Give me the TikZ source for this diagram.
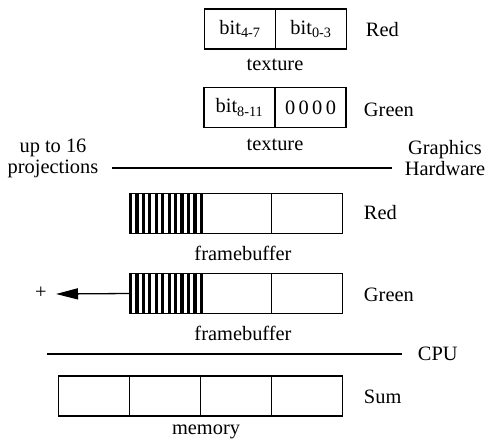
\documentclass[tikz,border=0pt]{standalone}
\usepackage{fontspec}
\setmainfont{Liberation Serif}
\usetikzlibrary{matrix,arrows.meta}

\begin{document}
\begin{tikzpicture}[x=1pt,y=-1pt,line width=1.3pt,
  font=\fontsize{20.4}{21}\selectfont,
  boxrow/.style={matrix of nodes, nodes in empty cells, inner sep=0pt,
     nodes={draw,minimum width=71pt,minimum height=40pt,anchor=center,inner sep=0pt},
     column sep=-\pgflinewidth},
  hatch/.style={line width=3.2pt}]
  \useasboundingbox (0,0) rectangle (487,440);
  % texture
  \matrix (texR) [boxrow] at (275.5,29) {bit\textsubscript{4-7} & bit\textsubscript{0-3} \\};
  \matrix (texG) [boxrow] at (275,107.5) {bit\textsubscript{8-11} & 0\,0\,0\,0 \\};
  \node (texRlbl) at (275,65) {texture};
  \node (texGlbl) at (275,145) {texture};
  \node[anchor=west] (texRname) at (362,30) {Red};
  \node[anchor=west] (texGname) at (360,110) {Green};
  % graphics hardware
  \draw (112,168) -- (392,168);
  \node[align=center] (proj) at (53,158) {up to 16\\projections};
  \node[align=center] (gh) at (445,158) {Graphics\\Hardware};
  % framebuffer
  \matrix (fbR) [boxrow] at (236,213.5) {& & \\};
  \matrix (fbG) [boxrow] at (236,293.5) {& & \\};
  \foreach \i in {0,...,11}{
    \draw[hatch] ([xshift=\i*6.45pt+1.6pt]fbR-1-1.north west) -- ([xshift=\i*6.45pt+1.6pt]fbR-1-1.south west);
    \draw[hatch] ([xshift=\i*6.45pt+1.6pt]fbG-1-1.north west) -- ([xshift=\i*6.45pt+1.6pt]fbG-1-1.south west);
  }
  \node (fbRlbl) at (243,253) {framebuffer};
  \node (fbGlbl) at (243,333) {framebuffer};
  \node[anchor=west] (fbRname) at (360,213) {Red};
  \node[anchor=west] (fbGname) at (360,295) {Green};
  \node (plus) at (41,293) {+};
  \coordinate (tip) at (56,294);
  \draw[-{Triangle[length=22pt,width=11pt]}] (fbG-1-1.west) -- (tip);
  % cpu
  \draw (47,354) -- (402,354);
  \node[anchor=west] (cpu) at (414,354) {CPU};
  \matrix (mem) [boxrow] at (200.5,396) {& & & \\};
  \node[anchor=west] (sum) at (360,397) {Sum};
  \node (memlbl) at (206,432) {memory};
\end{tikzpicture}
\end{document}
